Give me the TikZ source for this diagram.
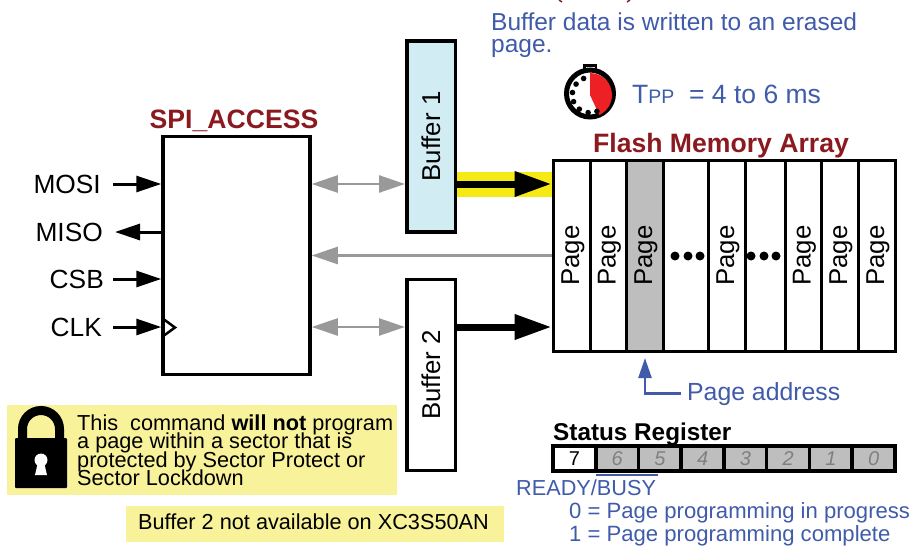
\documentclass[tikz,border=0pt]{standalone}
\usepackage{fontspec}
\setmainfont{Liberation Sans}
\usetikzlibrary{calc, positioning}
\usetikzlibrary{arrows.meta}
\definecolor{titlered}{HTML}{8A1A1F}
\definecolor{noteblue}{HTML}{3F5BA9}
\definecolor{bufblue}{HTML}{D2ECF3}
\definecolor{cellgray}{HTML}{BEBEBE}
\definecolor{linkgray}{HTML}{999999}
\definecolor{bandyellow}{HTML}{F5EA14}
\definecolor{noteyellow}{HTML}{F8F29B}
\definecolor{watchred}{HTML}{ED2024}
\tikzset{
  % Text sizes
  txt/.style={inner sep=0pt, font=\fontsize{24.5}{22}\selectfont},
  small/.style={inner sep=0pt, font=\fontsize{22.1}{22.1}\selectfont},
  sigtxt/.style={inner sep=0pt, anchor=east, font=\fontsize{26.3}{26}\selectfont},
  note/.style={inner sep=0pt, anchor=base west, font=\fontsize{21.7}{18.3}\selectfont},
  title/.style={inner sep=0pt, text=titlered, font=\fontsize{26.6}{26}\selectfont\bfseries},
  % Blocks
  block/.style={draw, line width=3.5pt, fill=white, inner sep=0pt},
  bufnode/.style={block, minimum width=48.5pt, minimum height=191pt, font=\fontsize{25.8}{26}\selectfont},
  % Page and status register cells
  pagecell/.style={block, line width=3pt, minimum height=191pt},
  regcell/.style={block, fill=cellgray, text=gray, minimum width=42.75pt,
    minimum height=25pt, font=\fontsize{20}{20}\selectfont\itshape},
  % Arrows
  sig->/.style={line width=3pt, -{Triangle[length=25pt,width=16pt]}},
  gr->/.style={line width=2.5pt, draw=linkgray, -{Triangle[length=26pt,width=17pt]}},
  gr<->/.style={gr->, {Triangle[length=26pt,width=17pt]}-{Triangle[length=26pt,width=17pt]}},
  bus->/.style={line width=7pt, -{Triangle[length=37pt,width=24pt]}},
  addr->/.style={line width=2.5pt, draw=noteblue, -{Triangle[length=20pt,width=13pt]}},
}
\begin{document}
\begin{tikzpicture}[x=1pt, y=-1pt]
  \useasboundingbox (0,0) rectangle (916,546);

  % Cut off heading
  \fill[titlered] (211,0) arc[start angle=180, end angle=0, x radius=6, y radius=-2.5];
  \fill[titlered] (294,0) arc[start angle=180, end angle=0, x radius=6, y radius=-2.5];
  \draw[titlered, line width=1.5pt] (559,0) -- (562,2);
  \draw[titlered, line width=1.5pt] (630,0) -- (627,2);

  \node[txt, anchor=base west, align=left, text=noteblue] (prog) at (491,52)
    {Buffer data is written to an erased\\page.};

  % Stopwatch
  \fill[black] (583,64) rectangle (597,72);
  \fill[white] (585.5,66.5) rectangle (594.5,70);
  \draw[line width=5pt, fill=white] (590,93.5) circle (23.5);
  \fill[watchred] (590,95) -- (590,73) arc[start angle=-90, end angle=65, radius=22] -- cycle;
  \foreach \a in {-111,-142,-172,-202,-233,-264,-293}
    \fill ($(590,95)+(\a:17.7)$) circle (2.8);
  \node[txt, anchor=base west, text=noteblue, font=\fontsize{26.5}{26.5}\selectfont] (tpp) at (632,103)
    {T{\fontsize{19.5}{19.5}\selectfont PP}\ \ = 4 to 6 ms};

  % Blocks
  \node[block, minimum width=147pt, minimum height=238pt] (spi) at (236.5,255.7) {};
  \node[title, anchor=base] at (234,128) {SPI\_ACCESS};
  \node[bufnode, fill=bufblue] (buf1) at (431,136.5) {\rotatebox{90}{Buffer 1}};
  \node[bufnode] (buf2) at (431,375) {\rotatebox{90}{Buffer 2}};

  % Signals
  \node[sigtxt] (mosi) at (101,184) {MOSI};
  \node[sigtxt] (miso) at (103,232) {MISO};
  \node[sigtxt] (csb) at (104,279) {CSB};
  \node[sigtxt] (clk) at (102,327) {CLK};
  \draw[sig->, shorten <=12pt] (mosi.east) -- (mosi -| spi.west);
  \draw[sig->] (miso -| spi.west) -- ($(miso.east)+(12,0)$);
  \draw[sig->, shorten <=9pt] (csb.east) -- (csb -| spi.west);
  \draw[sig->, shorten <=11pt] (clk.east) -- (clk -| spi.west);
  \draw[line width=2.5pt, line join=miter] (164,319.5) -- (175,327.5) -- (164,335.5);

  % Flash array
  \node[title, anchor=base] at (721,152) {Flash Memory Array};
  \node[pagecell, minimum width=342pt] (array) at (724,255.5) {};
  \foreach \n/\c/\w in {1/571.5/37,2/608/36,3/644.5/37,4/685.5/45,5/726.5/37,6/765/40,7/803/36,8/839.5/37,9/876.5/37}
    \node[pagecell, minimum width=\w pt] (p\n) at (\c,255.5) {};
  \node[pagecell, minimum width=37pt, fill=cellgray] (p3) at (644.5,255.5) {};
  \foreach \n in {1,2,3,5,7,8,9}
    \node[txt, xshift=1.5pt, font=\fontsize{25.8}{26}\selectfont] at (p\n) {\rotatebox{90}{Page}};
  \foreach \c in {675,688,700,751,764,776}
    \fill (\c,256) circle (4.5);

  % Links
  \draw[gr<->] (mosi -| spi.east) -- (mosi -| buf1.west);
  \draw[gr<->] (clk -| spi.east) -- (clk -| buf2.west);
  \draw[gr->] (array.west) -- (spi.east |- array.west);
  \draw[line width=25pt, draw=bandyellow] (mosi -| buf1.east) -- (mosi -| array.west);
  \draw[bus->] (mosi -| buf1.east) -- (mosi -| array.west);
  \draw[bus->] (clk -| buf2.east) -- (clk -| array.west);

  % Page address
  \coordinate (ptip) at (645,358);
  \node[txt, anchor=base west, text=noteblue, font=\fontsize{24.8}{25}\selectfont] (addr) at (687,400) {Page address};
  \draw[addr->, shorten <=6pt] (addr.west) -| (ptip);

  % Status register
  \node[txt, anchor=base west, font=\fontsize{24.3}{24.3}\selectfont\bfseries] at (553,440) {Status Register};
  \foreach \n/\c in {6/617.1,5/659.9,4/702.6,3/745.4,2/788.1,1/830.9,0/873.6}
    \node[regcell] (b\n) at (\c,458.5) {\n};
  \node[regcell, fill=white, text=black, font=\fontsize{20}{20}\selectfont] (b7) at (574.4,458.5) {7};
  \draw[line width=2.5pt, draw=noteblue] (596,475) -- (658,475);
  \node[inner sep=0pt, anchor=base west, text=noteblue, font=\fontsize{21.7}{21.7}\selectfont] (busy) at (516,495) {READY/BUSY};
  \node[small, anchor=base west, text=noteblue] (prog0) at (569,518) {0 = Page programming in progress};
  \node[small, anchor=base west, text=noteblue] (prog1) at (569,541) {1 = Page programming complete};

  % Notes
  \fill[noteyellow] (7,405) rectangle (397,495);
  \fill[noteyellow] (126,506) rectangle (504,542);
  \draw[line width=9pt] (22.5,440) -- (22.5,429) arc[start angle=180, end angle=360, radius=18.5] -- (59.5,440);
  \fill[rounded corners=1pt] (15,438) rectangle (67,488);
  \fill[white] (41,460) circle (6.5);
  \fill[white] (38,462) -- (44,462) -- (47,475) -- (35,475) -- cycle;
  \node[note] (lock1) at (77,430) {This\ \ command \textbf{will not} program};
  \node[note] (lock2) at (77,448) {a page within a sector that is};
  \node[note] (lock3) at (77,467) {protected by Sector Protect or};
  \node[note] (lock4) at (77,485) {Sector Lockdown};
  \node[note] (avail) at (138,529) {Buffer 2 not available on XC3S50AN};
\end{tikzpicture}
\end{document}
